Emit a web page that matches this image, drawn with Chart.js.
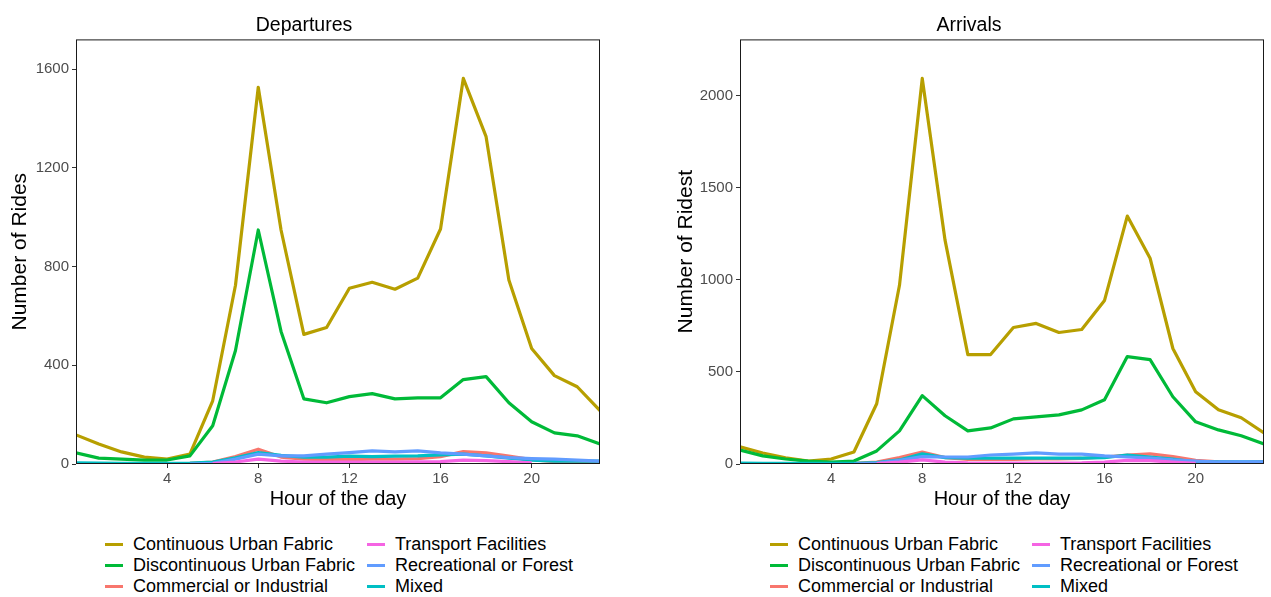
<!DOCTYPE html>
<html>
<head>
<meta charset="utf-8">
<script src="https://cdn.jsdelivr.net/npm/chart.js@4/dist/chart.umd.min.js"></script>
<style>
    body {
        margin: 0;
        width: 1271px;
        height: 597px;
        background: #fff;
        position: relative;
        overflow: hidden;
        font-family: 'Liberation Sans', Arial, sans-serif;
    }
    canvas { position: absolute; top: 0; }
    .legend {
        position: absolute;
        top: 534px;
        display: grid;
        grid-template-columns: 262px auto;
        grid-template-rows: repeat(3, 21px);
        grid-auto-flow: column;
        font-size: 18px;
        color: #000;
    }
    .item { display: flex; align-items: center; white-space: nowrap; }
    .swatch { width: 18px; height: 3px; margin-right: 10px; }
</style>
</head>
<body>
<canvas id="depChart" width="635" height="511" style="left:0"></canvas>
<canvas id="arrChart" width="636" height="511" style="left:635px"></canvas>
<div class="legend" id="depLegend" style="left:105px"></div>
<div class="legend" id="arrLegend" style="left:770px"></div>

<script>
// Data
const hours = [0, 1, 2, 3, 4, 5, 6, 7, 8, 9, 10, 11, 12, 13, 14, 15, 16, 17, 18, 19, 20, 21, 22, 23];
const categories = ['Continuous Urban Fabric', 'Discontinuous Urban Fabric', 'Commercial or Industrial',
    'Transport Facilities', 'Recreational or Forest', 'Mixed'];
const colors = ['#B79F00', '#00BA38', '#F8766D', '#F564E3', '#619CFF', '#00BFC4'];
// ggplot draws groups alphabetically, so the last one ends up on top (0 = on top in Chart.js)
const drawOrder = [4, 3, 5, 0, 1, 2];
const xTicks = [4, 8, 12, 16, 20];

// Departures
const depContinuous = [118, 81, 49, 28, 20, 40, 256, 724, 1526, 948, 525, 553, 712, 736, 708, 753, 952, 1562, 1326, 745, 468, 358, 313, 216];
const depDiscontinuous = [45, 24, 20, 16, 16, 33, 155, 460, 948, 537, 264, 248, 273, 285, 264, 268, 268, 342, 354, 248, 171, 126, 114, 81];
const depCommercial = [2, 2, 1, 1, 1, 3, 8, 30, 60, 28, 20, 18, 18, 20, 20, 22, 30, 50, 45, 32, 18, 10, 6, 4];
const depTransport = [null, null, null, null, null, null, 2, 8, 20, 12, 8, 8, 8, 8, 8, 9, 10, 16, 14, 10, 5, null, null, null];
const depRecreational = [null, null, null, null, null, 0, 3, 20, 40, 33, 33, 40, 46, 53, 49, 53, 45, 40, 33, 26, 22, 20, 16, 12];
const depMixed = [5, 4, 3, 3, 3, 4, 8, 25, 46, 35, 28, 28, 32, 30, 32, 33, 37, 40, 33, 24, 16, 12, 12, 12];
const depYTicks = [0, 400, 800, 1200, 1600];

// Arrivals
const arrContinuous = [93, 60, 33, 16, 27, 65, 327, 970, 2093, 1215, 594, 594, 741, 763, 714, 730, 888, 1346, 1117, 627, 392, 294, 251, 169];
const arrDiscontinuous = [76, 44, 27, 16, 11, 16, 71, 180, 371, 262, 180, 196, 245, 256, 267, 294, 349, 583, 567, 365, 229, 185, 153, 109];
const arrCommercial = [2, 2, 1, 1, 1, 3, 10, 35, 65, 35, 25, 25, 25, 28, 28, 30, 38, 48, 55, 40, 20, 12, 8, 12];
const arrTransport = [null, null, null, null, null, null, 2, 10, 22, 10, 6, 5, 5, 5, 5, 6, 10, 20, 18, 10, 4, null, null, null];
const arrRecreational = [null, null, null, null, null, 0, 5, 20, 40, 38, 38, 49, 54, 60, 54, 54, 44, 38, 32, 22, 16, 11, 11, 11];
const arrMixed = [5, 4, 3, 3, 3, 4, 8, 22, 55, 35, 32, 32, 32, 32, 32, 32, 35, 49, 38, 27, 11, 11, 11, 11];
const arrYTicks = [0, 500, 1000, 1500, 2000];

const font = "'Liberation Sans', Arial, sans-serif";

// Black frame round the plot area
const panelBorder = {
    id: 'panelBorder',
    afterDatasetsDraw(chart) {
        const { ctx, chartArea: a } = chart;
        ctx.save();
        ctx.strokeStyle = '#1a1a1a';
        ctx.lineWidth = 1;
        ctx.strokeRect(a.left + 0.5, a.top + 0.5, a.right - a.left - 1, a.bottom - a.top - 1);
        ctx.restore();
    }
};

function makeChart(id, series, opts) {
    const datasets = series.map((vals, i) => ({
        label: categories[i],
        data: hours.map((h, j) => ({ x: h, y: vals[j] })),
        borderColor: colors[i],
        backgroundColor: colors[i],
        borderWidth: 3.2,
        borderJoinStyle: 'round',
        borderCapStyle: 'butt',
        pointRadius: 0,
        tension: 0,
        spanGaps: false,
        order: drawOrder[i]
    }));

    return new Chart(document.getElementById(id), {
        type: 'line',
        data: { datasets },
        plugins: [panelBorder],
        options: {
            responsive: false,
            animation: false,
            layout: { padding: { left: opts.padLeft, right: opts.padRight, top: 0, bottom: 0 } },
            plugins: {
                legend: { display: false },
                tooltip: { enabled: false },
                title: {
                    display: true,
                    text: opts.title,
                    color: '#000',
                    font: { family: font, size: 19.5, weight: 'normal' },
                    padding: { top: 14, bottom: 2 }
                }
            },
            scales: {
                x: {
                    type: 'linear',
                    min: 0,
                    max: 23,
                    afterBuildTicks: s => { s.ticks = xTicks.map(v => ({ value: v })); },
                    afterFit: s => { s.height = 47; },
                    grid: { drawOnChartArea: false, tickLength: 4, color: '#333' },
                    border: { display: false },
                    ticks: { color: '#4D4D4D', font: { family: font, size: 15 }, padding: 2, maxRotation: 0, callback: v => String(v) },
                    title: { display: true, text: 'Hour of the day', color: '#000', font: { family: font, size: 20 }, padding: 0 }
                },
                y: {
                    min: 0,
                    max: opts.yMax,
                    afterBuildTicks: s => { s.ticks = opts.yTicks.map(v => ({ value: v })); },
                    afterFit: s => { s.width = opts.yWidth; },
                    grid: { drawOnChartArea: false, tickLength: 4, color: '#333' },
                    border: { display: false },
                    ticks: { color: '#4D4D4D', font: { family: font, size: 15 }, padding: 3, callback: v => String(v) },
                    title: { display: true, text: opts.yTitle, color: '#000', font: { family: font, size: 21 }, padding: 0 }
                }
            }
        }
    });
}

function renderLegend(id) {
    document.getElementById(id).innerHTML = categories.map((c, i) => `
        <div class="item"><span class="swatch" style="background:${colors[i]}"></span>${c}</div>
    `).join('');
}

makeChart('depChart',
    [depContinuous, depDiscontinuous, depCommercial, depTransport, depRecreational, depMixed],
    { title: 'Departures', yTitle: 'Number of Rides', yMax: 1720, yTicks: depYTicks, padLeft: 8, padRight: 35, yWidth: 68 });

makeChart('arrChart',
    [arrContinuous, arrDiscontinuous, arrCommercial, arrTransport, arrRecreational, arrMixed],
    { title: 'Arrivals', yTitle: 'Number of Ridest', yMax: 2305, yTicks: arrYTicks, padLeft: 39, padRight: 7, yWidth: 66 });

renderLegend('depLegend');
renderLegend('arrLegend');
</script>
</body>
</html>
